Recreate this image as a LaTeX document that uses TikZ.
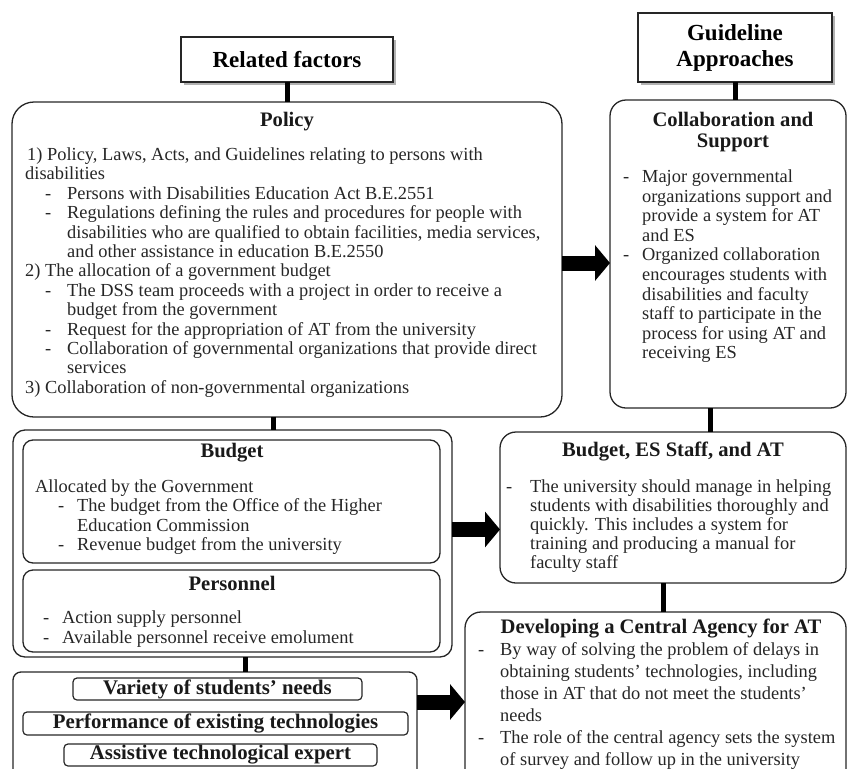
\documentclass[tikz,border=0pt]{standalone}
\usepackage{fontspec}
\setmainfont{Liberation Serif}
\usetikzlibrary{arrows.meta,shadows}
\newcommand{\dsh}[2]{\hspace*{#1}\makebox[#2][l]{-}}
\newcommand{\ind}[1]{\hspace*{#1}}
\begin{document}
\begin{tikzpicture}[x=1pt,y=-1pt,
  box/.style={draw=black!85, line width=1.3pt, rounded corners=#1, inner sep=0pt, outer sep=0pt, anchor=north west},
  box/.default=14pt,
  hdr/.style={draw=black!85, line width=1.5pt, fill=white, drop shadow={shadow xshift=3pt,shadow yshift=-3pt,fill=black!60,opacity=0.5}, inner sep=0pt, outer sep=0pt, anchor=north west, align=center, font=\fontsize{23}{26}\selectfont\bfseries},
  ttl/.style={font=\fontsize{20.6}{21}\selectfont\bfseries, text=black!90, inner sep=0pt, align=center},
  body/.style={font=\fontsize{18.4}{19.4}\selectfont, text=black!85, inner sep=0pt, align=left, anchor=north west},
  sbox/.style={draw=black!85, line width=1.2pt, rounded corners=4pt, inner sep=0pt, outer sep=0pt, anchor=north west, font=\fontsize{20.8}{22}\selectfont\bfseries, text=black!90},
  conn/.style={line width=5pt, black},
  barrow/.style={line width=15pt, -{Triangle[length=15pt,width=35pt]}}
]
\useasboundingbox (0,0) rectangle (847,769);

% headers
\node[hdr, minimum width=212pt, minimum height=45pt] (related) at (181,37) {Related factors};
\node[hdr, minimum width=194pt, minimum height=69pt] (guide) at (638,13) {Guideline\\Approaches};

% policy
\node[box=22pt, minimum width=550pt, minimum height=315pt] (policy) at (12,102) {};
\node[ttl] (policyttl) at (287,122) {Policy};
\node[body] (policyt) at (25,147.5) {%
\hspace*{2pt}1) Policy, Laws, Acts, and Guidelines relating to persons with\\
disabilities\\
\dsh{20pt}{22pt}Persons with Disabilities Education Act B.E.2551\\
\dsh{20pt}{22pt}Regulations defining the rules and procedures for people with\\
\ind{42pt}disabilities who are qualified to obtain facilities, media services,\\
\ind{42pt}and other assistance in education B.E.2550\\
2) The allocation of a government budget\\
\dsh{20pt}{22pt}The DSS team proceeds with a project in order to receive a\\
\ind{42pt}budget from the government\\
\dsh{20pt}{22pt}Request for the appropriation of AT from the university\\
\dsh{20pt}{22pt}Collaboration of governmental organizations that provide direct\\
\ind{42pt}services\\
3) Collaboration of non-governmental organizations};

% collaboration
\node[box=16pt, minimum width=236pt, minimum height=308pt] (collab) at (610,100) {};
\node[ttl] (collabttl) at (733,132) {Collaboration and\\Support};
\node[body, font=\fontsize{18.4}{19.6}\selectfont] (collabt) at (623,169.5) {%
\dsh{0pt}{19pt}Major governmental\\
\ind{19pt}organizations support and\\
\ind{19pt}provide a system for AT\\
\ind{19pt}and ES\\
\dsh{0pt}{19pt}Organized collaboration\\
\ind{19pt}encourages students with\\
\ind{19pt}disabilities and faculty\\
\ind{19pt}staff to participate in the\\
\ind{19pt}process for using AT and\\
\ind{19pt}receiving ES};

% budget + personnel
\node[box=12pt, minimum width=439pt, minimum height=227pt] (bp) at (13,430) {};
\node[box=10pt, minimum width=417pt, minimum height=123pt] (budget) at (23,440) {};
\node[ttl] (budgetttl) at (232,453) {Budget};
\node[body] (budgett) at (35,479.5) {%
Allocated by the Government\\
\dsh{23pt}{19pt}The budget from the Office of the Higher\\
\ind{42pt}Education Commission\\
\dsh{23pt}{19pt}Revenue budget from the university};
\node[box=10pt, minimum width=417pt, minimum height=82pt] (personnel) at (23,570) {};
\node[ttl] (personnelttl) at (232,583) {Personnel};
\node[body, font=\fontsize{18.4}{20}\selectfont] (personnelt) at (43,610.5) {%
\dsh{0pt}{19pt}Action supply personnel\\
\dsh{0pt}{19pt}Available personnel receive emolument};

% budget, ES staff and AT
\node[box=16pt, minimum width=346pt, minimum height=151pt] (budes) at (500,432) {};
\node[ttl] (budesttl) at (673,452) {Budget, ES Staff, and AT};
\node[body, font=\fontsize{18.4}{19}\selectfont] (budest) at (506,479.5) {%
\dsh{0pt}{24pt}The university should manage in helping\\
\ind{24pt}students with disabilities thoroughly and\\
\ind{24pt}quickly. This includes a system for\\
\ind{24pt}training and producing a manual for\\
\ind{24pt}faculty staff};

% developing
\node[box=16pt, minimum width=381pt, minimum height=190pt] (dev) at (465,612) {};
\node[ttl] (devttl) at (661,629) {Developing a Central Agency for AT};
\node[body, font=\fontsize{18.4}{22}\selectfont] (devt) at (478,642.5) {%
\dsh{0pt}{22pt}By way of solving the problem of delays in\\
\ind{22pt}obtaining students’ technologies, including\\
\ind{22pt}those in AT that do not meet the students’\\
\ind{22pt}needs\\
\dsh{0pt}{22pt}The role of the central agency sets the system\\
\ind{22pt}of survey and follow up in the university};

% lower factors
\node[box=8pt, minimum width=404pt, minimum height=130pt] (lower) at (13,672) {};
\node[sbox, minimum width=289pt, minimum height=22pt] (variety) at (73,678) {Variety of students’ needs};
\node[sbox, minimum width=385pt, minimum height=23pt] (perf) at (23,712) {Performance of existing technologies};
\node[sbox, minimum width=313pt, minimum height=22pt] (assist) at (64,744) {Assistive technological expert};

% connectors
\draw[conn] (related.south) -- (related.south |- policy.north);
\draw[conn] (guide.south) -- (guide.south |- collab.north);
\coordinate (c1) at (710,0);
\coordinate (c2) at (663,0);
\coordinate (c3) at (273,0);
\coordinate (c4) at (245,0);
\draw[conn] (collab.south -| c1) -- (budes.north -| c1);
\draw[conn] (budes.south -| c2) -- (dev.north -| c2);
\draw[conn] (policy.south -| c3) -- (bp.north -| c3);
\draw[conn] (bp.south -| c4) -- (lower.north -| c4);

% block arrows
\coordinate (a1) at (0,263);
\coordinate (a2) at (0,529.5);
\coordinate (a3) at (0,702);
\draw[barrow] (policy.east |- a1) -- (collab.west |- a1);
\draw[barrow] (bp.east |- a2) -- (budes.west |- a2);
\draw[barrow] (lower.east |- a3) -- (dev.west |- a3);
\end{tikzpicture}
\end{document}
